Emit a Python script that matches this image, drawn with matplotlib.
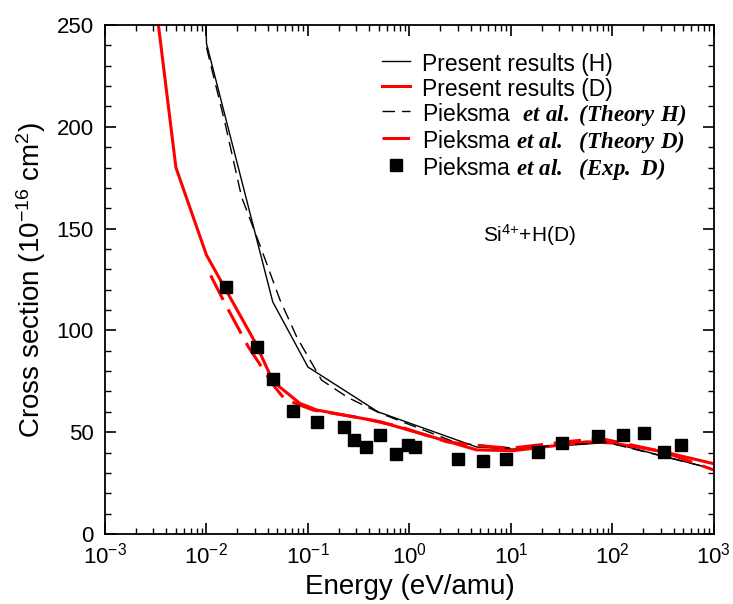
import matplotlib
matplotlib.use("Agg")
import matplotlib.pyplot as plt
from matplotlib.ticker import LogLocator, MultipleLocator, NullFormatter

plt.rcParams['font.family'] = ['Liberation Sans', 'DejaVu Sans']
plt.rcParams['mathtext.fontset'] = 'custom'
plt.rcParams['mathtext.rm'] = 'Liberation Sans'
plt.rcParams['mathtext.it'] = 'Liberation Sans:italic'
plt.rcParams['mathtext.bf'] = 'Liberation Serif:italic:bold'

# Present results (H)
h_energy = [0.0097, 0.01, 0.045, 0.1, 0.49, 4.6, 10.5, 94, 815]
h_cross = [275, 241, 114, 82, 60, 42.7, 41.7, 45, 33]

# Present results (D)
d_energy = [0.003, 0.005, 0.01, 0.030, 0.0455, 0.083, 0.122, 0.51, 4.6, 10.5, 55.7, 101, 316, 1000]
d_cross = [270, 180, 137, 94.4, 74.8, 64.2, 60.9, 55.2, 41.3, 40.9, 45.3, 44.7, 40.4, 34.5]

# Pieksma et al. theory H
th_energy = [0.01, 0.0152, 0.0222, 0.035, 0.053, 0.0775, 0.136, 0.248, 0.51, 2.94, 10.5, 88, 815]
th_cross = [239, 202, 165.5, 139.5, 115, 96.8, 75.6, 67, 59.4, 44.7, 42.2, 45, 33]

# Pieksma et al. theory D
td_energy = [0.011, 0.0152, 0.0258, 0.047, 0.059, 0.112, 0.35, 0.805, 2.33, 4.2, 9.8, 35, 75, 316, 1000]
td_cross = [127, 113.3, 92, 72.3, 66.2, 60.9, 56.8, 52.7, 45.3, 43.7, 42.1, 45.3, 47, 40.4, 31.4]

# Pieksma et al. experiment D
exp_energy = [0.0156, 0.0312, 0.0449, 0.0716, 0.122, 0.228, 0.286, 0.37, 0.51, 0.73, 0.96, 1.13,
              3.03, 5.33, 8.87, 18.3, 31.6, 71.4, 128, 206, 324, 470]
exp_cross = [121.5, 92, 76.1, 60.4, 55.2, 52.7, 46.2, 42.6, 48.6, 39.1, 43.7, 42.9,
             36.8, 36, 36.8, 40.4, 44.9, 48.1, 48.6, 49.5, 40.1, 43.7]

fig = plt.figure(figsize=(7.33, 6.04), dpi=100)
ax = fig.add_axes([0.1432, 0.1159, 0.8308, 0.8427])

ax.plot(h_energy, h_cross, color='black', lw=1.0, label='Present results (H)')
ax.plot(d_energy, d_cross, color='#ff0000', lw=2.2, label='Present results (D)')
ax.plot(th_energy, th_cross, color='black', lw=1.0, dashes=(9, 5),
        label=r'Pieksma  $\mathbf{et\ al.\ (Theory\ H)}$')
ax.plot(td_energy, td_cross, color='#ff0000', lw=2.2, dashes=(9, 3.5),
        label=r'Pieksma $\mathbf{et\ al.\ \ (Theory\ D)}$')
ax.plot(exp_energy, exp_cross, ls='none', marker='s', ms=8.5, color='black',
        label=r'Pieksma $\mathbf{et\ al.\ \ (Exp.\ D)}$')

ax.set_xscale('log')
ax.set_xlim(1e-3, 1e3)
ax.set_ylim(0, 250)
ax.xaxis.set_major_locator(LogLocator(base=10, numticks=10))
ax.xaxis.set_minor_locator(LogLocator(base=10, subs=range(2, 10), numticks=20))
ax.xaxis.set_minor_formatter(NullFormatter())
ax.yaxis.set_major_locator(MultipleLocator(50))
ax.yaxis.set_minor_locator(MultipleLocator(10))

ax.tick_params(which='both', direction='in', top=True, right=True, labelsize=16)
ax.tick_params(which='major', length=8, width=1.2)
ax.tick_params(which='minor', length=4, width=1.0)
ax.tick_params(axis='y', pad=8)
ax.tick_params(axis='x', pad=6)
for s in ax.spines.values():
    s.set_linewidth(1.3)

ax.set_xlabel('Energy (eV/amu)', fontsize=20, labelpad=4)
ax.set_ylabel(r'Cross section (10$^{-16}$ cm$^2$)', fontsize=20, labelpad=6)

ax.text(0.62, 0.575, r'Si$^{4{+}}$+H(D)', transform=ax.transAxes, fontsize=15)

ax.legend(loc='upper left', bbox_to_anchor=(0.455, 0.948), frameon=False, fontsize=16.5,
          handlelength=1.2, handleheight=1.22, handletextpad=0.55, labelspacing=0.0,
          borderpad=0, borderaxespad=0)

fig.savefig('out.png', dpi=100)
